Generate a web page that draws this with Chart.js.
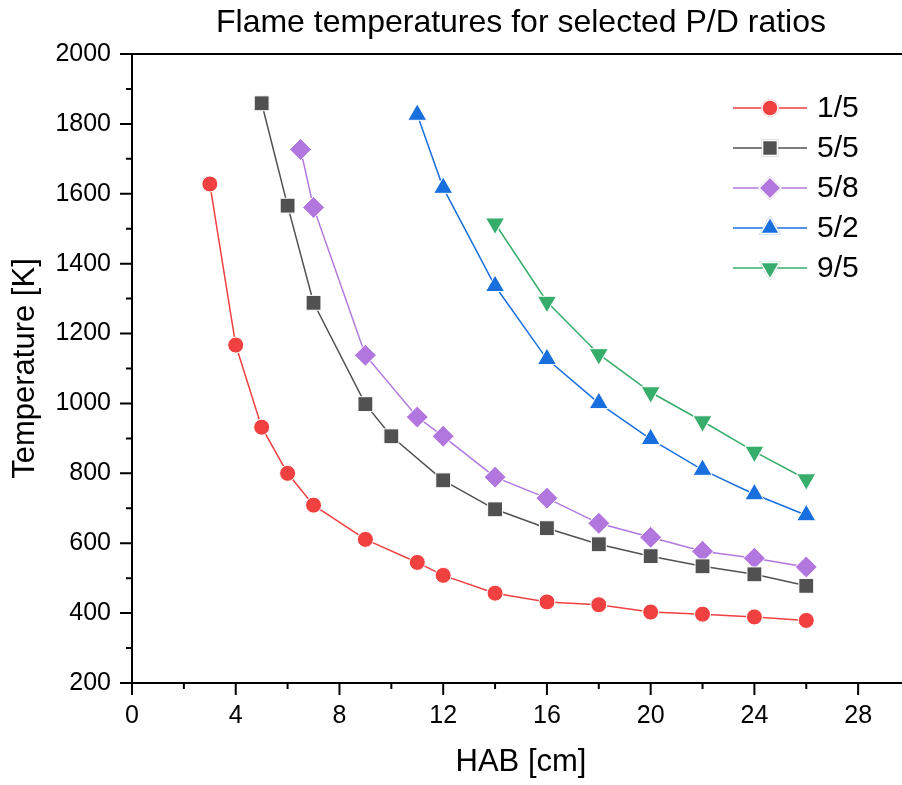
<!DOCTYPE html>
<html>
<head>
<meta charset="utf-8">
<script src="https://cdn.jsdelivr.net/npm/chart.js@4.4.1/dist/chart.umd.min.js"></script>
<style>
  body { margin: 0; overflow: hidden; background: #fff; }
</style>
</head>
<body>
<canvas id="canvas1" width="928" height="785"></canvas>
<script>
// values
const hab15 = [3, 4, 5, 6, 7, 9, 11, 12, 14, 16, 18, 20, 22, 24, 26];
const temp15 = [1628, 1167, 932, 800, 709, 611, 545, 508, 457, 432, 424, 403, 397, 389, 379];

const hab55 = [5, 6, 7, 9, 10, 12, 14, 16, 18, 20, 22, 24, 26];
const temp55 = [1859, 1566, 1288, 998, 906, 780, 697, 643, 597, 563, 534, 511, 478];

const hab58 = [6.5, 7, 9, 11, 12, 14, 16, 18, 20, 22, 24, 26];
const temp58 = [1727, 1561, 1138, 961, 906, 789, 729, 657, 617, 577, 557, 532];

const hab52 = [11, 12, 14, 16, 18, 20, 22, 24, 26];
const temp52 = [1826, 1617, 1336, 1127, 1001, 898, 810, 740, 680];

const hab95 = [14, 16, 18, 20, 22, 24, 26];
const temp95 = [1515, 1291, 1141, 1032, 949, 862, 783];

const xTicks = [0, 4, 8, 12, 16, 20, 24, 28];
const yTicks = [200, 400, 600, 800, 1000, 1200, 1400, 1600, 1800, 2000];

function pts(xs, ys) {
    return xs.map((x, i) => ({x: x, y: ys[i]}));
}

function series(label, xs, ys, color, style, radius, rot) {
    return {
        label: label,
        data: pts(xs, ys),
        borderColor: color,
        backgroundColor: color,
        borderWidth: 1.5,
        pointStyle: style,
        pointRadius: radius,
        pointRotation: rot || 0,
        pointBackgroundColor: color,
        pointBorderColor: '#fff',
        pointBorderWidth: 1,
        tension: 0
    };
}

const datasets = [
    series('1/5', hab15, temp15, '#F14040', 'circle', 8),
    series('5/5', hab55, temp55, '#515151', 'rect', 10.5),
    series('5/8', hab58, temp58, '#B177DE', 'rectRot', 11),
    series('5/2', hab52, temp52, '#1A6FDF', 'triangle', 11),
    series('9/5', hab95, temp95, '#37AD6B', 'triangle', 11, 180)
];

const FONT = '"Liberation Sans", Arial, sans-serif';

// tick marks, top frame, title and legend
const decor = {
    id: 'decor',
    afterDraw(chart) {
        const ctx = chart.ctx;
        const a = chart.chartArea;
        const xs = chart.scales.x, ys = chart.scales.y;
        ctx.save();
        ctx.strokeStyle = '#000';
        ctx.lineWidth = 2;
        ctx.beginPath();
        xs.ticks.forEach(t => {
            const px = xs.getPixelForValue(t.value);
            const len = xTicks.includes(t.value) ? 12 : 6;
            ctx.moveTo(px, a.bottom);
            ctx.lineTo(px, a.bottom + len);
        });
        ys.ticks.forEach(t => {
            const py = ys.getPixelForValue(t.value);
            const len = yTicks.includes(t.value) ? 12 : 6;
            ctx.moveTo(a.left, py);
            ctx.lineTo(a.left - len, py);
        });
        ctx.moveTo(a.left - 1, a.top);
        ctx.lineTo(a.right, a.top);
        ctx.stroke();

        // title
        ctx.fillStyle = '#000';
        ctx.font = '32px ' + FONT;
        ctx.textAlign = 'center';
        ctx.textBaseline = 'alphabetic';
        ctx.fillText('Flame temperatures for selected P/D ratios', (a.left + a.right) / 2, 32);

        // legend
        ctx.font = '30px ' + FONT;
        ctx.textAlign = 'left';
        ctx.textBaseline = 'middle';
        chart.data.datasets.forEach((ds, i) => {
            const y = 108 + i * 40;
            ctx.strokeStyle = ds.borderColor;
            ctx.lineWidth = 1.5;
            ctx.beginPath();
            ctx.moveTo(733, y);
            ctx.lineTo(807, y);
            ctx.stroke();
            Chart.helpers.drawPoint(ctx, {
                pointStyle: ds.pointStyle,
                radius: ds.pointRadius,
                rotation: ds.pointRotation,
                borderWidth: 1
            }, 770, y);
            ctx.fillStyle = ds.borderColor;
            ctx.strokeStyle = '#fff';
            ctx.fill();
            ctx.stroke();
            ctx.fillStyle = '#000';
            ctx.fillText(ds.label, 817, y + 1);
        });
        ctx.restore();
    }
};

const ctx = document.getElementById('canvas1');
const chartFlame = new Chart(ctx, {
    type: 'line',
    data: { datasets: datasets },
    options: {
        responsive: false,
        animation: false,
        devicePixelRatio: 1,
        layout: { padding: { top: 54, right: 1, left: 0, bottom: 0 } },
        plugins: {
            legend: { display: false },
            tooltip: { enabled: false }
        },
        scales: {
            x: {
                type: 'linear',
                min: 0,
                max: 30,
                afterFit: s => { s.height = 102; },
                grid: { display: false, drawTicks: false },
                border: { display: true, color: '#000', width: 2 },
                ticks: {
                    stepSize: 2,
                    autoSkip: false,
                    maxRotation: 0,
                    padding: 18,
                    color: '#000',
                    font: { family: FONT, size: 25 },
                    callback: v => xTicks.includes(v) ? String(v) : ''
                },
                title: {
                    display: true,
                    text: 'HAB [cm]',
                    color: '#000',
                    font: { family: FONT, size: 31 },
                    padding: { top: 0, bottom: 4 }
                }
            },
            y: {
                min: 200,
                max: 2000,
                afterFit: s => { s.width = 132; },
                grid: { display: false, drawTicks: false },
                border: { display: true, color: '#000', width: 2 },
                ticks: {
                    stepSize: 100,
                    autoSkip: false,
                    padding: 21,
                    color: '#000',
                    font: { family: FONT, size: 25 },
                    callback: v => yTicks.includes(v) ? String(v) : ''
                },
                title: {
                    display: true,
                    text: 'Temperature [K]',
                    color: '#000',
                    font: { family: FONT, size: 31 },
                    padding: { top: 7, bottom: 0 }
                }
            }
        }
    },
    plugins: [decor]
});
</script>
</body>
</html>
